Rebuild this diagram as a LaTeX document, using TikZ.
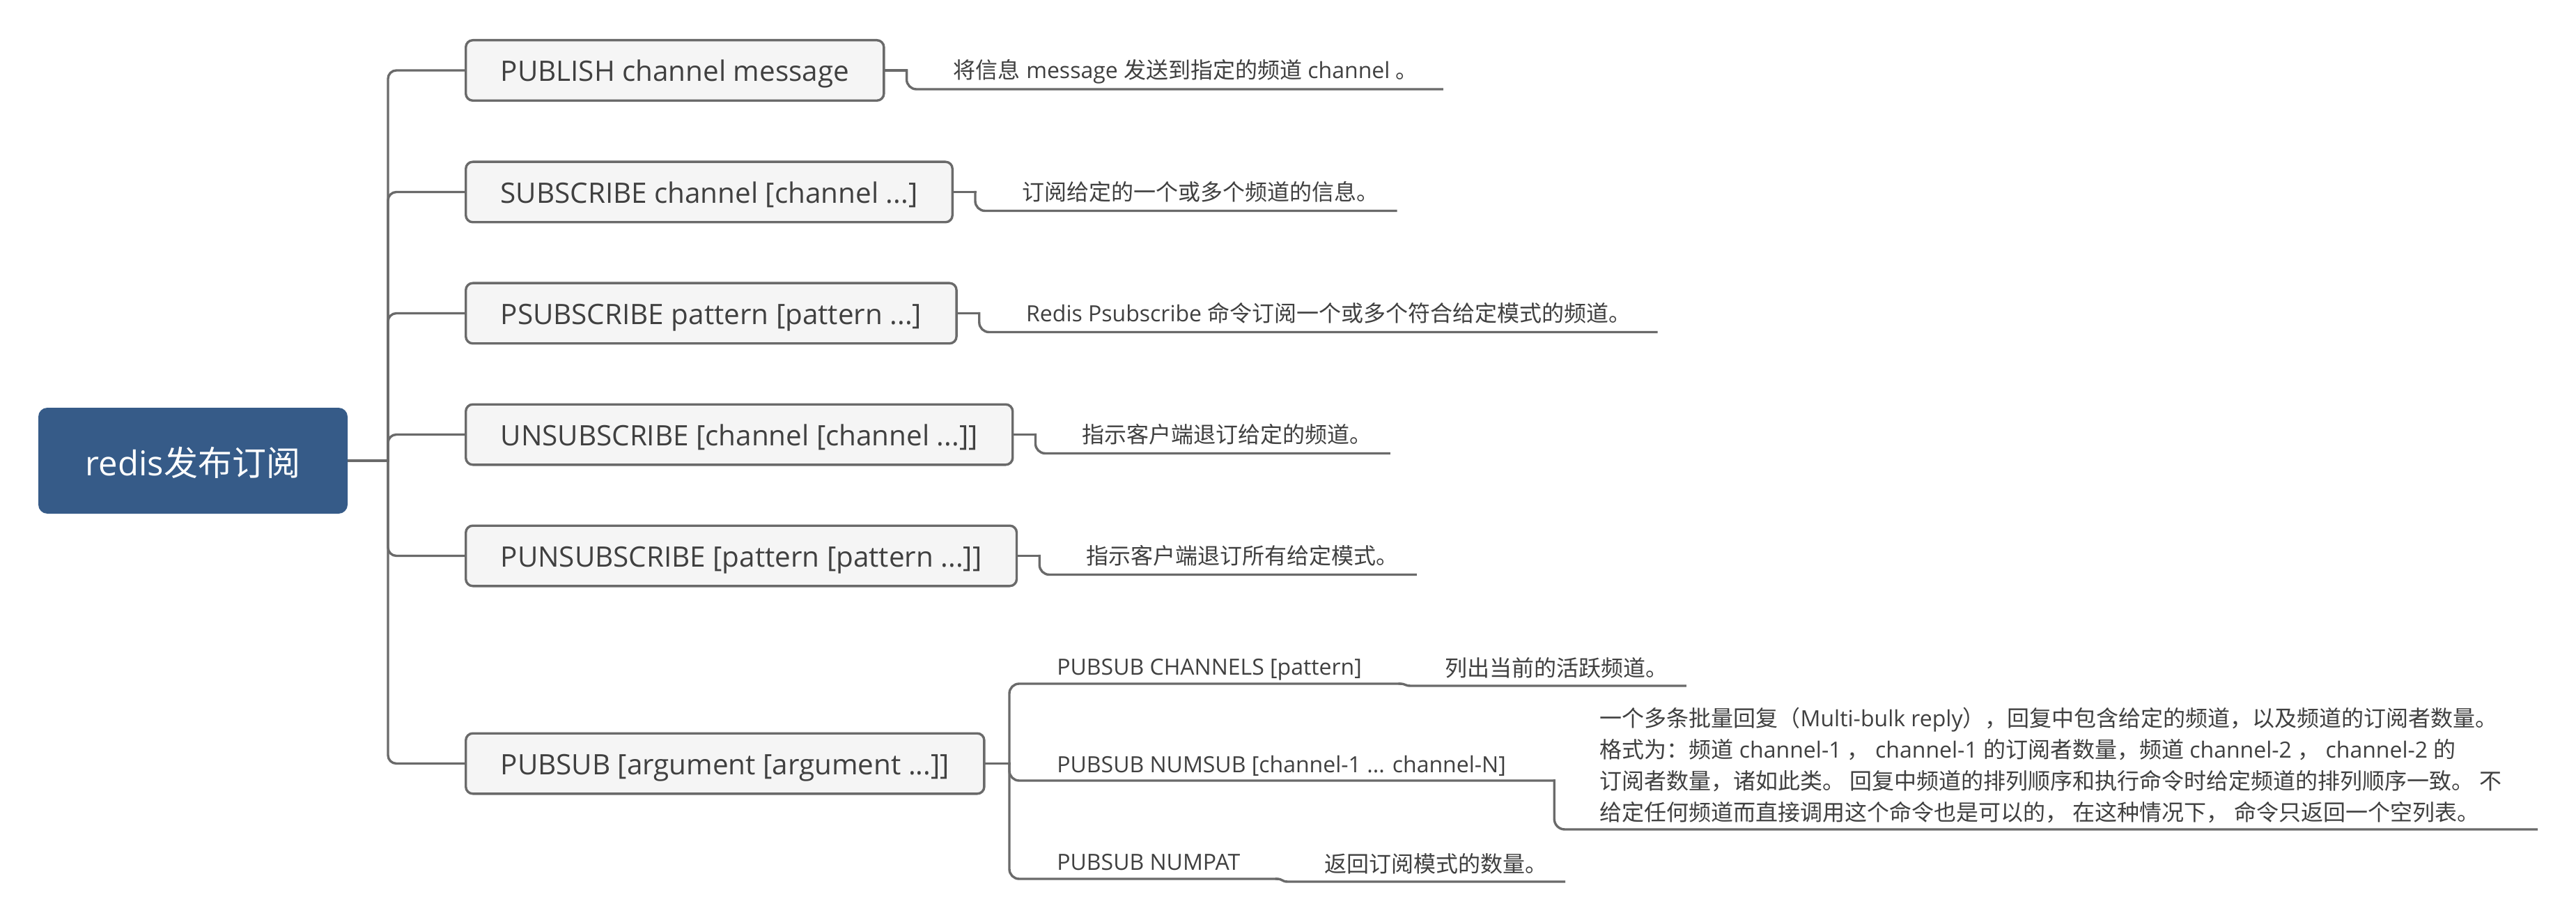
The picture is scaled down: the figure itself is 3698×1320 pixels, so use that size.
\documentclass[tikz,border=0pt]{standalone}
\usepackage{fontspec}
\setmainfont{Open Sans}
\newfontfamily\cjk{Noto Sans CJK SC}
\newcommand\zh[1]{{\cjk #1}}
\usetikzlibrary{calc}
\pgfdeclarelayer{bg}
\pgfsetlayers{bg,main}
\definecolor{lnc}{HTML}{6A6A6A}
\definecolor{rootc}{HTML}{365B88}
\definecolor{boxfill}{HTML}{F5F5F5}
\definecolor{txtc}{HTML}{404040}
\begin{document}
\begin{tikzpicture}[x=0.5pt,y=-0.5pt,
  conn/.style={draw=lnc, line width=1.7pt, line cap=rect},
  rootbox/.style={fill=rootc, rounded corners=6.5pt, text=white,
    font=\fontsize{24.5pt}{29pt}\selectfont, minimum width=222pt,
    minimum height=76pt, inner sep=0pt, text height=24pt, text depth=2.9pt},
  cmdbox/.style={draw=lnc, line width=1.7pt, fill=boxfill, rounded corners=5pt,
    text=txtc, font=\fontsize{20.2pt}{24pt}\selectfont, inner xsep=25pt,
    inner ysep=0pt, minimum height=43.3pt, text height=19pt, text depth=3pt,
    anchor=west},
  leaf/.style={text=txtc, font=\fontsize{16pt}{22.5pt}\selectfont,
    inner sep=0pt, anchor=base west},
]
\useasboundingbox (0,0) rectangle (3698,1320);

% root and commands
\node[rootbox] (root) at (277,661) {redis\zh{发布订阅}};
\node[cmdbox] (b1) at (667,101) {PUBLISH channel message};
\node[cmdbox] (b2) at (667,275.5) {SUBSCRIBE channel [channel ...]};
\node[cmdbox] (b3) at (667,449.5) {PSUBSCRIBE pattern [pattern ...]};
\node[cmdbox] (b4) at (667,623.5) {UNSUBSCRIBE [channel [channel ...]]};
\node[cmdbox] (b5) at (667,797.5) {PUNSUBSCRIBE [pattern [pattern ...]]};
\node[cmdbox] (b6) at (667,1095.5) {PUBSUB [argument [argument ...]]};

% leaves of the first five commands
\node[leaf] (l1) at ($(b1.east)+(98,12)$) {\zh{将信息} message \zh{发送到指定的频道} channel \zh{。}};
\node[leaf] (l2) at ($(b2.east)+(98,12)$) {\zh{订阅给定的一个或多个频道的信息。}};
\node[leaf] (l3) at ($(b3.east)+(98,12)$) {Redis Psubscribe \zh{命令订阅一个或多个符合给定模式的频道。}};
\node[leaf] (l4) at ($(b4.east)+(98,12)$) {\zh{指示客户端退订给定的频道。}};
\node[leaf] (l5) at ($(b5.east)+(98,12)$) {\zh{指示客户端退订所有给定模式。}};

% PUBSUB sub-commands
\coordinate (J) at (1449,1095.5);
\node[leaf] (c1) at (1517,968) {PUBSUB CHANNELS [pattern]};
\node[leaf] (c2) at (1517,1108) {PUBSUB NUMSUB [channel-1 ... channel-N]};
\node[leaf] (c3) at (1517,1248) {PUBSUB NUMPAT};
\coordinate (e1) at ($(c1.base east)+(54,13)$);
\coordinate (e2) at ($(c2.base east)+(69,12)$);
\coordinate (e3) at ($(c3.base east)+(52,13)$);

\node[leaf] (d1) at ($(e1)+(65,-11)$) {\zh{列出当前的活跃频道。}};
\node[leaf] (d3) at ($(e3)+(68,-10)$) {\zh{返回订阅模式的数量。}};
\node[leaf] (n1) at ($(e2)+(65,-78)$) {\zh{一个多条批量回复（}Multi-bulk reply\zh{），回复中包含给定的频道，以及频道的订阅者数量。}};
\node[leaf] (n2) at ($(e2)+(65,-33)$) {\zh{格式为：频道} channel-1 \zh{，} channel-1 \zh{的订阅者数量，频道} channel-2 \zh{，} channel-2 \zh{的}};
\node[leaf] (n3) at ($(e2)+(65,12)$) {\zh{订阅者数量，诸如此类。 回复中频道的排列顺序和执行命令时给定频道的排列顺序一致。 不}};
\node[leaf] (n4) at ($(e2)+(65,57)$) {\zh{给定任何频道而直接调用这个命令也是可以的， 在这种情况下， 命令只返回一个空列表。}};

\begin{pgfonlayer}{bg}
\fill[white] (0,0) rectangle (3698,1320);
% trunk
\coordinate (T) at (557,661);
\draw[conn] (root.east) -- (T);
\foreach \b in {b1,b2,b3,b4,b5,b6}
  \draw[conn, rounded corners=6pt] (T) |- (\b.west);
% leaf connectors
\foreach \b/\l/\o in {b1/l1/34,b2/l2/24,b3/l3/36,b4/l4/24,b5/l5/24}{
  \draw[conn] (\b.east) -- ++(31,0) coordinate (s);
  \draw[conn, rounded corners=7pt] (s) |- ($(\l.base east)+(\o,15)$);
}
% PUBSUB branch
\draw[conn] (b6.east) -- (J);
\draw[conn, rounded corners=7pt] (J) |- (e1);
\draw[conn, rounded corners=7pt] (J) |- (e2);
\draw[conn, rounded corners=7pt] (J) |- (e3);
% CHANNELS leaf
\coordinate (e1b) at ($(e1)+(16,3)$);
\coordinate (d1e) at ($(d1.base east)+(24,0)$);
\draw[conn] (e1) .. controls ($(e1)+(9,0)$) and ($(e1b)+(-9,0)$) .. (e1b) -- (e1b -| d1e);
% NUMPAT leaf
\coordinate (e3b) at ($(e3)+(16,4)$);
\coordinate (d3e) at ($(d3.base east)+(24,0)$);
\draw[conn] (e3) .. controls ($(e3)+(9,0)$) and ($(e3b)+(-9,0)$) .. (e3b) -- (e3b -| d3e);
% NUMSUB leaf
\coordinate (u2) at ($(e2)+(0,70)$);
\coordinate (ue) at ($(n3.base east)+(50,0)$);
\draw[conn, rounded corners=7.5pt] (e2) -- (u2) -- (u2 -| ue);
\end{pgfonlayer}
\end{tikzpicture}
\end{document}
